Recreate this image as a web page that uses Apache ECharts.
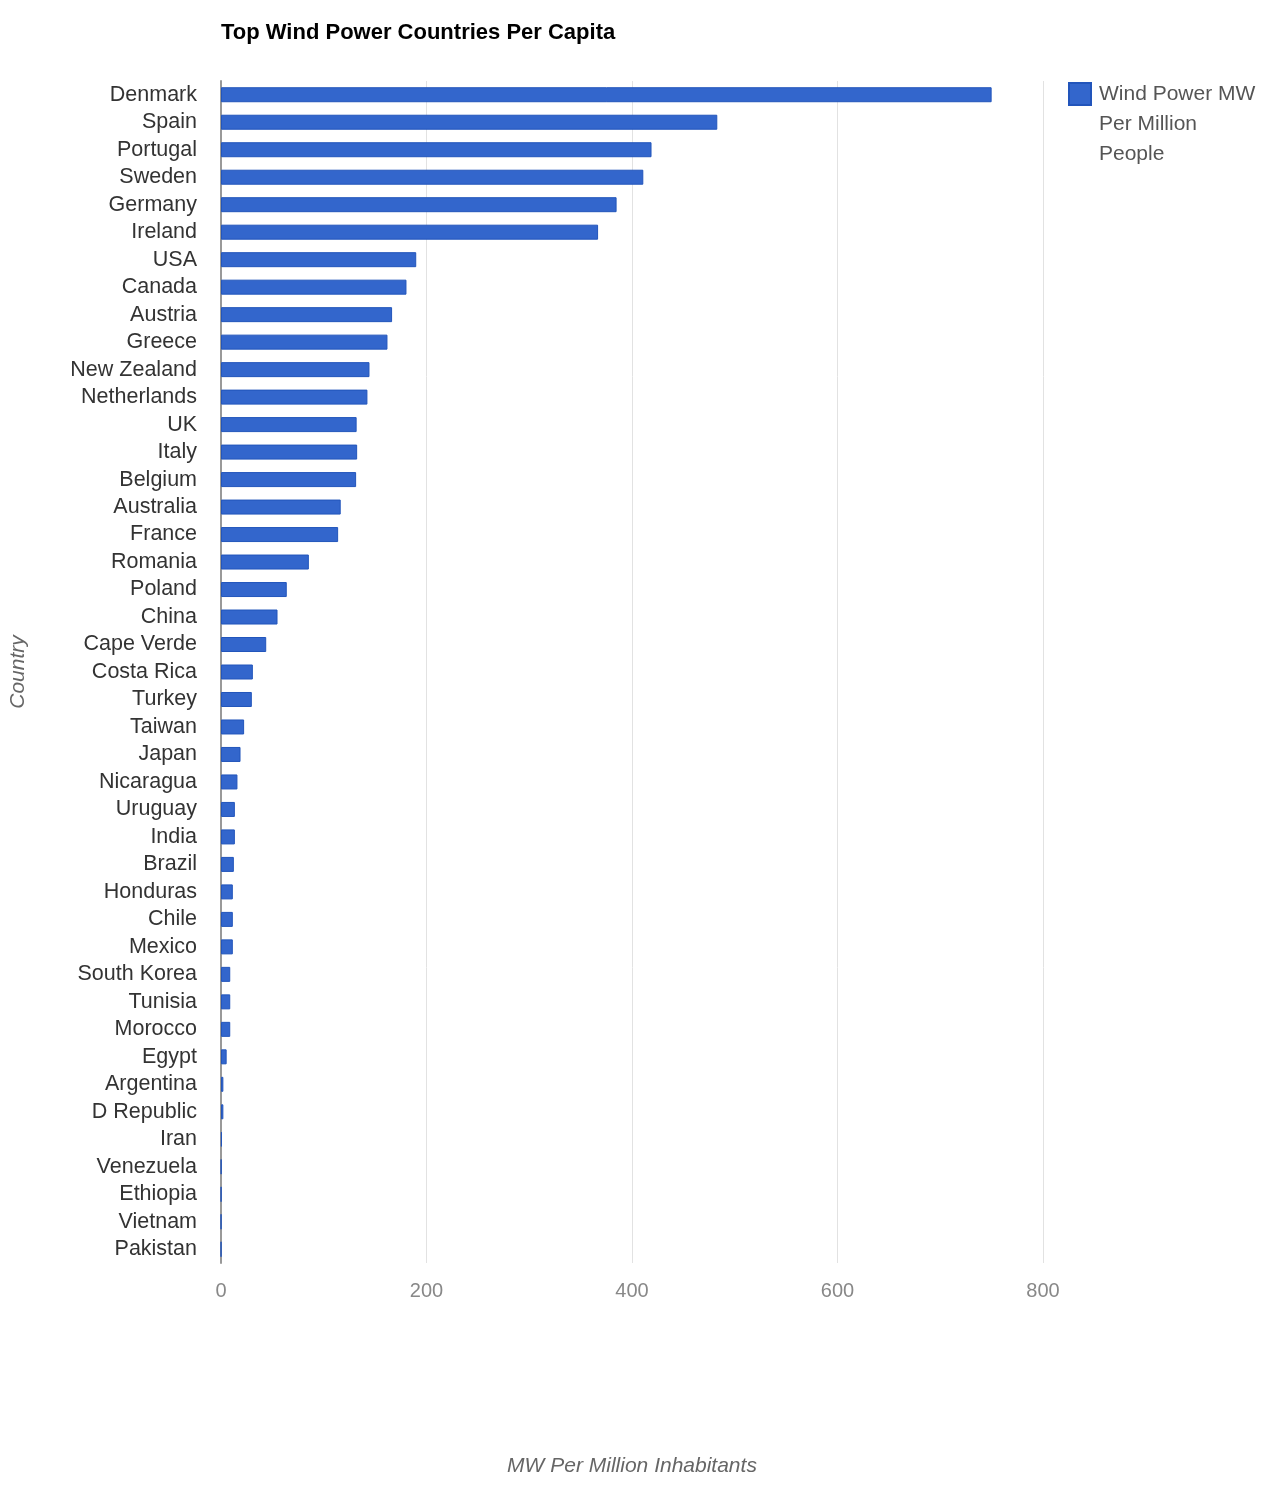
<!DOCTYPE html>
<html>
<head>
<meta charset="utf-8">
<style>html,body{margin:0;padding:0;background:#fff}#c{width:1280px;height:1509px}</style>
<script src="https://cdn.jsdelivr.net/npm/echarts@6/dist/echarts.min.js"></script>
</head>
<body>
<div id="c"></div>
<script>
var countries = ["Denmark","Spain","Portugal","Sweden","Germany","Ireland","USA","Canada","Austria","Greece","New Zealand","Netherlands","UK","Italy","Belgium","Australia","France","Romania","Poland","China","Cape Verde","Costa Rica","Turkey","Taiwan","Japan","Nicaragua","Uruguay","India","Brazil","Honduras","Chile","Mexico","South Korea","Tunisia","Morocco","Egypt","Argentina","D Republic","Iran","Venezuela","Ethiopia","Vietnam","Pakistan"];
var windPower = [750,483,419,411,385,367,190,180.5,166.5,162,144.5,142.5,132,132.5,131.5,116.5,114,85.5,64,55,44,31,30,22.5,19,16,13.5,13.5,12.5,11.5,11.5,11.5,9,9,9,5.5,2.3,2.3,0.8,0.3,0.2,0.1,0.1];
var xTicks = [0,200,400,600,800];
var seriesName = "Wind Power MW Per Million People";

var chart = echarts.init(document.getElementById('c'), null, {renderer:'canvas'});
var font = 'Liberation Sans, Arial, sans-serif';
chart.setOption({
  animation:false,
  backgroundColor:'#ffffff',
  title:{text:'Top Wind Power Countries Per Capita', left:216, top:17,
    textStyle:{fontFamily:font, fontSize:22, fontWeight:'bold', color:'#000'}},
  legend:{
    left:1068, top:19, padding:0, orient:'vertical',
    icon:'rect', itemWidth:22, itemHeight:22, itemGap:8,
    data:[seriesName],
    formatter:function(){return '\n\nWind Power MW\nPer Million\nPeople';},
    textStyle:{fontFamily:font, fontSize:21, color:'#555', lineHeight:30, padding:[0,0,0,3]}
  },
  grid:{left:221, right:237, top:81, bottom:246, outerBoundsMode:'none', containLabel:false},
  xAxis:{
    type:'value', min:xTicks[0], max:xTicks[xTicks.length-1], interval:200,
    name:'MW Per Million Inhabitants', nameLocation:'middle', nameGap:193,
    nameTextStyle:{fontFamily:font, fontSize:21, fontStyle:'italic', color:'#666'},
    axisLine:{show:false}, axisTick:{show:false},
    axisLabel:{fontFamily:font, fontSize:20, color:'#888', margin:18},
    splitLine:{lineStyle:{color:'#e2e2e2', width:1}}
  },
  yAxis:{
    type:'category', data:countries, inverse:true,
    name:'Country', nameLocation:'middle', nameGap:192, nameRotate:90,
    nameTextStyle:{fontFamily:font, fontSize:21, fontStyle:'italic', color:'#666'},
    axisLine:{show:true, lineStyle:{color:'#999', width:2}}, axisTick:{show:false},
    axisLabel:{fontFamily:font, fontSize:21.5, color:'#333', margin:24, interval:0}
  },
  series:[{
    name:seriesName, type:'bar', data:windPower, barWidth:15,
    itemStyle:{color:'#3366cc', borderColor:'#2255bb', borderWidth:1}
  }]
});
</script>
</body>
</html>
